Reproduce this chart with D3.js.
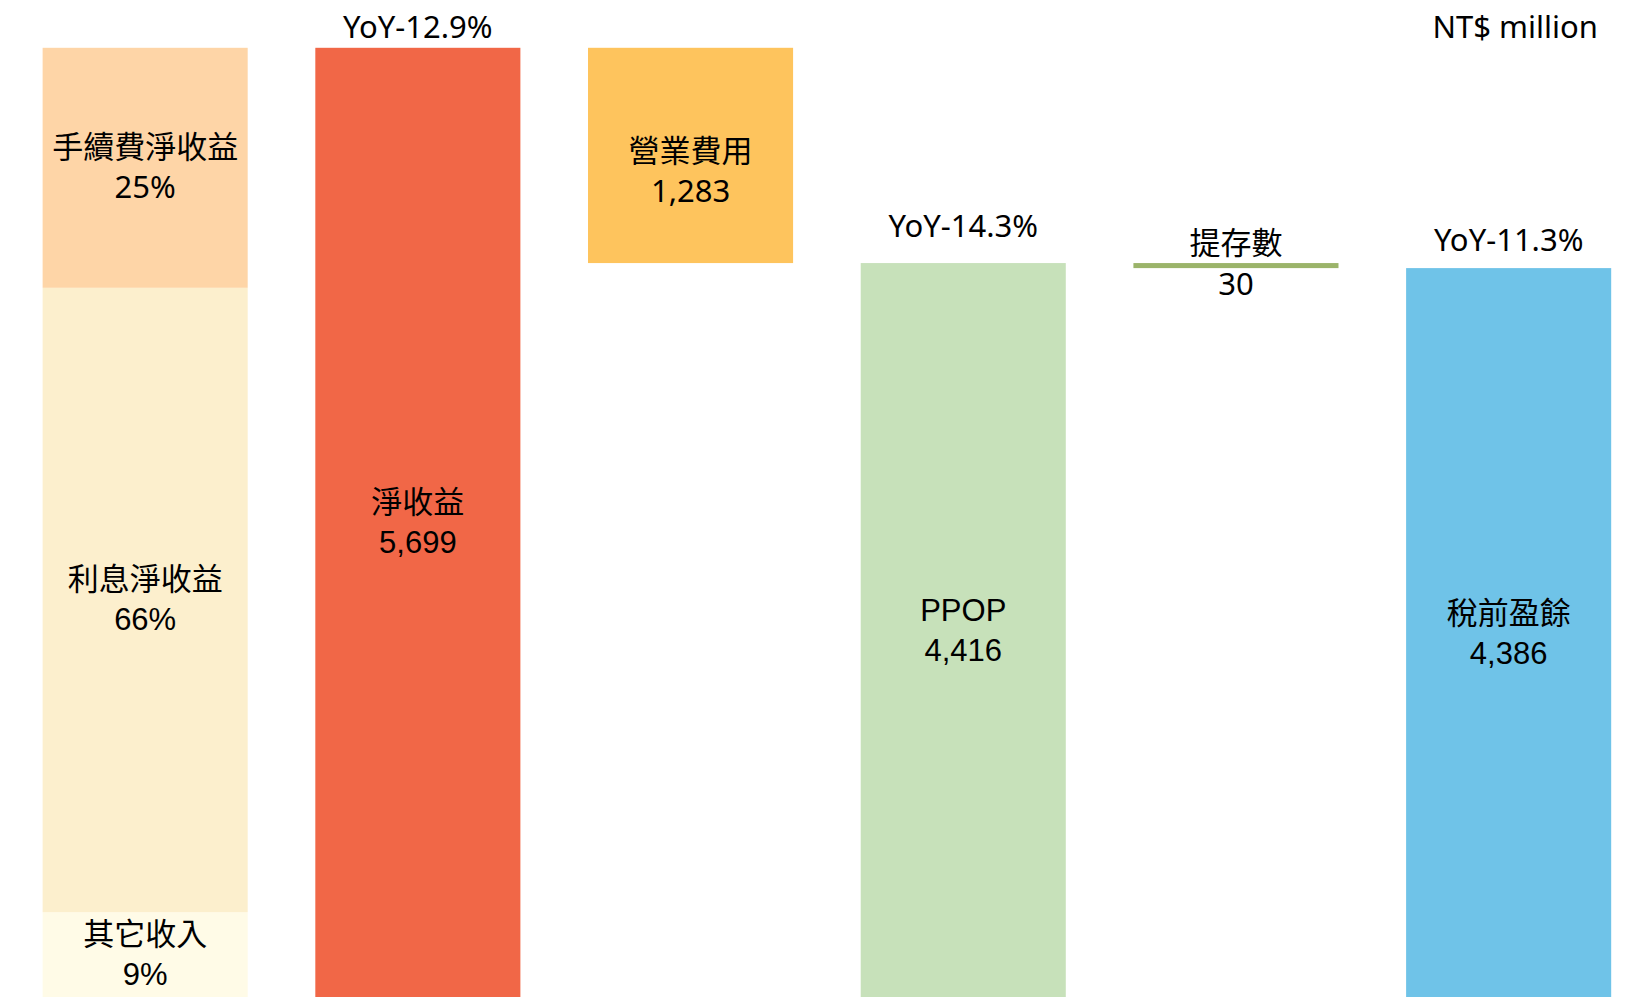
<!DOCTYPE html>
<html>
<head>
<meta charset="utf-8">
<script src="https://cdn.jsdelivr.net/npm/d3@7"></script>
<style>
  html, body { margin: 0; padding: 0; background: #fff; }
  svg { display: block; }
  .ui { font-family: "Noto Sans", "Noto Sans CJK TC", sans-serif; }
  .arial { font-family: "Liberation Sans", "Noto Sans CJK TC", sans-serif; }
</style>
</head>
<body>
<div id="chart"></div>
<script>
var categories = ['收入結構', '淨收益', '營業費用', 'PPOP', '提存數', '稅前盈餘']
var mixLabels = ['其它收入', '利息淨收益', '手續費淨收益']
var mixPctText = ['9%', '66%', '25%']
var mixShares = [9.6, 65.3, 25.1]
var netRevenue = 5699
var opex = 1283
var ppop = 4416
var provision = 30
var pbt = 4386
var yoyLabels = { '淨收益': 'YoY-12.9%', 'PPOP': 'YoY-14.3%', '稅前盈餘': 'YoY-11.3%' }
var unitLabel = 'NT$ million'

var width = 1631
var height = 997
var fontSize = 31

var mixColors = ['#fffbe7', '#fcefcd', '#fed5a7']
var colors = {
  '淨收益': '#f16747',
  '營業費用': '#fec45d',
  'PPOP': '#c7e1ba',
  '提存數': '#9bb46a',
  '稅前盈餘': '#6fc3e8'
}

var x = d3.scaleBand()
  .domain(categories)
  .range([8.8, 1645])
  .paddingInner(0.248)
  .paddingOuter(0.124)

// baseline sits a little below the bottom edge of the picture
var y = d3.scaleLinear()
  .domain([0, netRevenue])
  .range([1004, 47.8])

// waterfall steps
var steps = [
  { name: '淨收益', y0: 0, y1: netRevenue, cls: 'arial' },
  { name: '營業費用', y0: ppop, y1: netRevenue, cls: 'ui', dy: 16 },
  { name: 'PPOP', y0: 0, y1: ppop, cls: 'arial' },
  { name: '提存數', y0: pbt, y1: ppop, cls: 'ui', outside: true },
  { name: '稅前盈餘', y0: 0, y1: pbt, cls: 'arial' }
]

var svg = d3.select('#chart').append('svg')
  .attr('width', width)
  .attr('height', height)

// revenue mix stacked bar
var stackTotal = d3.sum(mixShares)
var acc = 0
var mix = mixShares.map(function (s, i) {
  var d = { label: mixLabels[i], pct: mixPctText[i], y0: acc / stackTotal * netRevenue, y1: (acc + s) / stackTotal * netRevenue, color: mixColors[i] }
  acc += s
  return d
})

var mixG = svg.append('g')
mixG.selectAll('rect')
  .data(mix)
  .enter().append('rect')
  .attr('x', x(categories[0]))
  .attr('width', x.bandwidth())
  .attr('y', function (d) { return y(d.y1) })
  .attr('height', function (d) { return y(d.y0) - y(d.y1) })
  .attr('fill', function (d) { return d.color })

function twoLines (g, cx, cy, a, b, cls) {
  var t = g.append('text')
    .attr('class', cls)
    .attr('text-anchor', 'middle')
    .attr('font-size', fontSize)
    .attr('fill', '#000')
  t.append('tspan').attr('x', cx).attr('y', cy - 20 + 11).text(a)
  t.append('tspan').attr('x', cx).attr('y', cy + 20 + 11).text(b)
}

mix.forEach(function (d, i) {
  var top = y(d.y1)
  var bottom = Math.min(y(d.y0), height)
  twoLines(mixG, x(categories[0]) + x.bandwidth() / 2, (top + bottom) / 2 - 1, d.label, d.pct, i === 2 ? 'ui' : 'arial')
})

// waterfall bars
var bars = svg.append('g')
bars.selectAll('rect')
  .data(steps)
  .enter().append('rect')
  .attr('x', function (d) { return x(d.name) })
  .attr('width', x.bandwidth())
  .attr('y', function (d) { return y(d.y1) })
  .attr('height', function (d) { return y(d.y0) - y(d.y1) })
  .attr('fill', function (d) { return colors[d.name] })

steps.forEach(function (d) {
  var cx = x(d.name) + x.bandwidth() / 2
  var val = d3.format(',')(d.y1 - d.y0)
  if (d.outside) {
    bars.append('text').attr('class', d.cls)
      .attr('text-anchor', 'middle').attr('font-size', fontSize)
      .attr('x', cx).attr('y', y(d.y1) - 20 + 11).text(d.name)
    bars.append('text').attr('class', d.cls)
      .attr('text-anchor', 'middle').attr('font-size', fontSize)
      .attr('x', cx).attr('y', y(d.y0) + 16 + 11).text(val)
    return
  }
  var top = y(d.y1)
  var bottom = Math.min(y(d.y0), height)
  var cy = (top + bottom) / 2 + (d.dy || 0)
  twoLines(bars, cx, cy, d.name, val, d.cls)
  if (yoyLabels[d.name]) {
    var off = d.name === 'PPOP' ? 37 : 28
    bars.append('text').attr('class', 'ui')
      .attr('text-anchor', 'middle').attr('font-size', fontSize)
      .attr('x', cx).attr('y', Math.max(top - off, 27) + 11)
      .text(yoyLabels[d.name])
  }
})

svg.append('text').attr('class', 'ui')
  .attr('text-anchor', 'end').attr('font-size', fontSize)
  .attr('x', 1598).attr('y', 27 + 11)
  .text(unitLabel)
</script>
</body>
</html>
